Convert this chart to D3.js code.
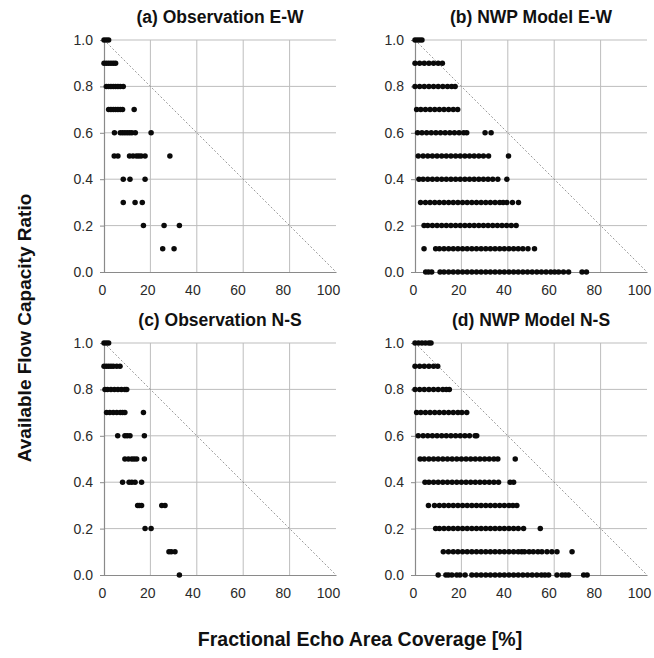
<!DOCTYPE html>
<html><head><meta charset="utf-8">
<script src="https://cdn.jsdelivr.net/npm/d3@7"></script>
<style>body{margin:0;background:#fff}svg{display:block}</style>
</head><body>
<script>
// ---- data (x = fractional echo coverage %, grouped by capacity ratio level) ----
const xTicks = [0, 20, 40, 60, 80, 100];
const yTicks = [0.0, 0.2, 0.4, 0.6, 0.8, 1.0];
const titles = ["(a) Observation E-W", "(b) NWP Model E-W", "(c) Observation N-S", "(d) NWP Model N-S"];

const obsEW = [
  [1.0, [0, 1, 2]],
  [0.9, [0, 1, 2, 3, 4, 5]],
  [0.8, [1, 2, 3, 4, 5, 6, 7, 8.3]],
  [0.7, [2, 3, 4, 5, 6, 7, 8, 13]],
  [0.6, [4.5, 7, 8, 9, 10, 11, 12, 13.5, 20.3]],
  [0.5, [4.4, 6, 11, 12.5, 14, 15, 16, 17.7, 28.4]],
  [0.4, [8.3, 11.2, 17.7]],
  [0.3, [8.3, 13.4, 16.5]],
  [0.2, [17, 25.9, 32.5]],
  [0.1, [25.3, 30.2]]
];

const nwpEW = [
  [1.0, [0, 1, 2, 3]],
  [0.9, [0, 2, 4, 6, 8, 10, 11.8]],
  [0.8, [0, 2, 4, 6, 8, 10, 12, 14, 15.8, 17.3]],
  [0.7, [0.7, 2.5, 4.5, 6.5, 8.5, 10.5, 12.5, 14.5, 16.5, 18.4]],
  [0.6, [1.1, 3, 5, 7, 9, 11, 13, 15, 17, 19, 21, 22.3, 30.2, 32.8]],
  [0.5, [1.4, 3.5, 5.5, 7.5, 9.5, 11.5, 13.5, 15.5, 17.5, 19.5, 21.5, 23.5, 25.5, 27.5, 29.5, 31.7, 40.3]],
  [0.4, [1.7, 3.5, 5.5, 7.5, 9.5, 11.5, 13.5, 15.5, 17.5, 19.5, 21.5, 23.5, 25.5, 27.5, 29.5, 31.5, 33.5, 35.7, 39.6]],
  [0.3, [2.4, 4.5, 6.5, 8.5, 10.5, 12.5, 14.5, 16.5, 18.5, 20.5, 22.5, 24.5, 26.5, 28.5, 30.5, 32.5, 34.5, 36.5, 38, 39.6, 42, 44.6]],
  [0.2, [3.9, 5.5, 7.5, 9.5, 11.5, 13.5, 15.5, 17.5, 19.5, 21.5, 23.5, 25.5, 27.5, 29.5, 31.5, 33.5, 35.5, 37.5, 39.5, 41.5, 43.6]],
  [0.1, [3.9, 8.9, 10.5, 12.5, 14.5, 16.5, 18.5, 20.5, 22.5, 24.5, 26.5, 28.5, 30.5, 32.5, 34.5, 36.5, 38.5, 40.5, 42.5, 44.5, 46.5, 48.7, 51.5]],
  [0.0, [4.6, 5.8, 7.2, 10.8, 12.5, 14.5, 16.5, 18.5, 20.5, 22.5, 24.5, 26.5, 28.5, 30.5, 32.5, 34.5, 36.5, 38.5, 40.5, 42.5, 44.5, 46.5, 48.5, 50.5, 52.5, 54.5, 56.5, 58.5, 60.2, 61.9, 64, 66.2, 72, 73.9]]
];

const obsNS = [
  [1.0, [0, 1, 2]],
  [0.9, [0, 1, 2, 3, 4, 5.5, 6.9]],
  [0.8, [0.4, 1.5, 3, 4.5, 6, 7.5, 9, 9.8]],
  [0.7, [1.1, 2.5, 4, 5.5, 7, 8, 9, 17]],
  [0.6, [5.9, 9, 10, 11.2, 17.4]],
  [0.5, [9, 10.5, 12, 13, 14.1, 17.4]],
  [0.4, [8, 10.8, 12, 13.4, 16.2]],
  [0.3, [14.5, 15.2, 16.2, 24.9, 26.3]],
  [0.2, [17.7, 20.3]],
  [0.1, [28, 29, 30.6]],
  [0.0, [32.5]]
];

const nwpNS = [
  [1.0, [0, 1.5, 3, 4.5, 6, 6.9]],
  [0.9, [0, 2, 4, 6, 8, 9.8]],
  [0.8, [0, 2, 4, 6, 8, 10, 12, 13.5, 14.8]],
  [0.7, [0.7, 2.5, 4.5, 6.5, 8.5, 10.5, 12.5, 14.5, 16.5, 18.5, 20.2, 22.3]],
  [0.6, [1.4, 3.5, 5.5, 7.5, 9.5, 11.5, 13.5, 15.5, 17.5, 19.5, 21.5, 23.5, 25.9, 26.6]],
  [0.5, [2.2, 4, 6, 8, 10, 12, 14, 16, 18, 20, 22, 24, 26, 28, 30, 32, 34, 35.7, 43.2]],
  [0.4, [4.3, 6, 8, 10, 12, 14, 16, 18, 20, 22, 24, 26, 28, 30, 32, 34, 36, 41, 42.5]],
  [0.3, [5.8, 8.4, 10.5, 12.5, 14.5, 16.5, 18.5, 20.5, 22.5, 24.5, 26.5, 28.5, 30.5, 32.5, 34.5, 36.5, 38.5, 40.5, 42.2, 43.9]],
  [0.2, [8.9, 10.5, 12.5, 14.5, 16.5, 18.5, 20.5, 22.5, 24.5, 26.5, 28.5, 30.5, 32.5, 34.5, 36.5, 38.5, 40.5, 42.5, 44.5, 46.8, 54]],
  [0.1, [12.2, 14.4, 16.5, 18.5, 20.5, 22.5, 24.5, 26.5, 28.5, 30.5, 32.5, 34.5, 36.5, 38.5, 40.5, 42.5, 44.5, 46, 47.2, 49.2, 51, 53, 54.7, 56.9, 59, 61.2, 67.7]],
  [0.0, [10, 13.3, 14.4, 15.9, 18, 19.4, 21.6, 24.5, 26.5, 28.5, 30.5, 32.5, 34.5, 36.5, 38.5, 40.5, 42.5, 44.5, 46.5, 48.5, 50.5, 52.5, 54.5, 56, 57.6, 61.2, 63.4, 64.8, 66.2, 72.7, 74.2]]
];

// ---- layout ----
const W = 654, H = 658;
const panels = [
  {data: obsEW, left: 104, top: 40},
  {data: nwpEW, left: 415, top: 40},
  {data: obsNS, left: 104, top: 343},
  {data: nwpNS, left: 415, top: 343}
];
const pw = 232, ph = 232;
const font = "'Liberation Sans', Arial, Helvetica, sans-serif";

const svg = d3.select("body").append("svg").attr("width", W).attr("height", H)
  .style("font-family", font);

panels.forEach((p, i) => {
  const x = d3.scaleLinear().domain([0, 100]).range([0, pw]);
  const y = d3.scaleLinear().domain([0, 1]).range([ph, 0]);
  const g = svg.append("g").attr("transform", `translate(${p.left},${p.top})`);

  // gridlines
  g.append("g").selectAll("line").data(xTicks.slice(1, -1)).join("line")
    .attr("x1", d => x(d)).attr("x2", d => x(d)).attr("y1", 0).attr("y2", ph)
    .attr("stroke", "#bdbdbd").attr("stroke-width", 1);
  g.append("g").selectAll("line").data(yTicks.slice(1)).join("line")
    .attr("x1", 0).attr("x2", pw).attr("y1", d => y(d)).attr("y2", d => y(d))
    .attr("stroke", "#bdbdbd").attr("stroke-width", 1);

  // diagonal reference line
  g.append("line").attr("x1", x(0)).attr("y1", y(1)).attr("x2", x(100)).attr("y2", y(0))
    .attr("stroke", "#8f8f8f").attr("stroke-width", 0.9).attr("stroke-dasharray", "2,2");

  // axes
  const yAxis = d3.axisLeft(y).tickValues(yTicks).tickFormat(d3.format(".1f")).tickSize(4).tickPadding(7);
  const xAxis = d3.axisBottom(x).tickValues(xTicks).tickFormat(d3.format("d")).tickSize(0).tickPadding(13);
  const ya = g.append("g").call(yAxis);
  const xa = g.append("g").attr("transform", `translate(0,${ph})`).call(xAxis);
  [ya, xa].forEach(a => {
    a.select(".domain").attr("stroke", "#8a8a8a").attr("stroke-width", 1.2);
    a.selectAll(".tick line").attr("stroke", "#8a8a8a");
    a.selectAll("text").attr("fill", "#2a2a2a").style("font-size", "14px").style("font-family", font);
  });
  xa.selectAll(".tick text").attr("dx", d => -2 - d * 0.06);

  // points
  const pts = [];
  p.data.forEach(([lv, xs]) => xs.forEach(v => pts.push([v, lv])));
  g.append("g").selectAll("circle").data(pts).join("circle")
    .attr("cx", d => x(d[0])).attr("cy", d => y(d[1])).attr("r", 2.75).attr("fill", "#0a0a0a");

  // title
  svg.append("text").attr("x", p.left + pw / 2).attr("y", p.top - 17)
    .attr("text-anchor", "middle").attr("font-weight", "bold").attr("font-size", "17.5px")
    .attr("fill", "#111").text(titles[i]);
});

// axis titles
svg.append("text").attr("transform", "translate(31,328) rotate(-90)")
  .attr("text-anchor", "middle").attr("font-weight", "bold").attr("font-size", "19px")
  .attr("fill", "#111").text("Available Flow Capacity Ratio");
svg.append("text").attr("x", 360).attr("y", 646)
  .attr("text-anchor", "middle").attr("font-weight", "bold").attr("font-size", "19.5px")
  .attr("fill", "#111").text("Fractional Echo Area Coverage [%]");
</script>
</body></html>
